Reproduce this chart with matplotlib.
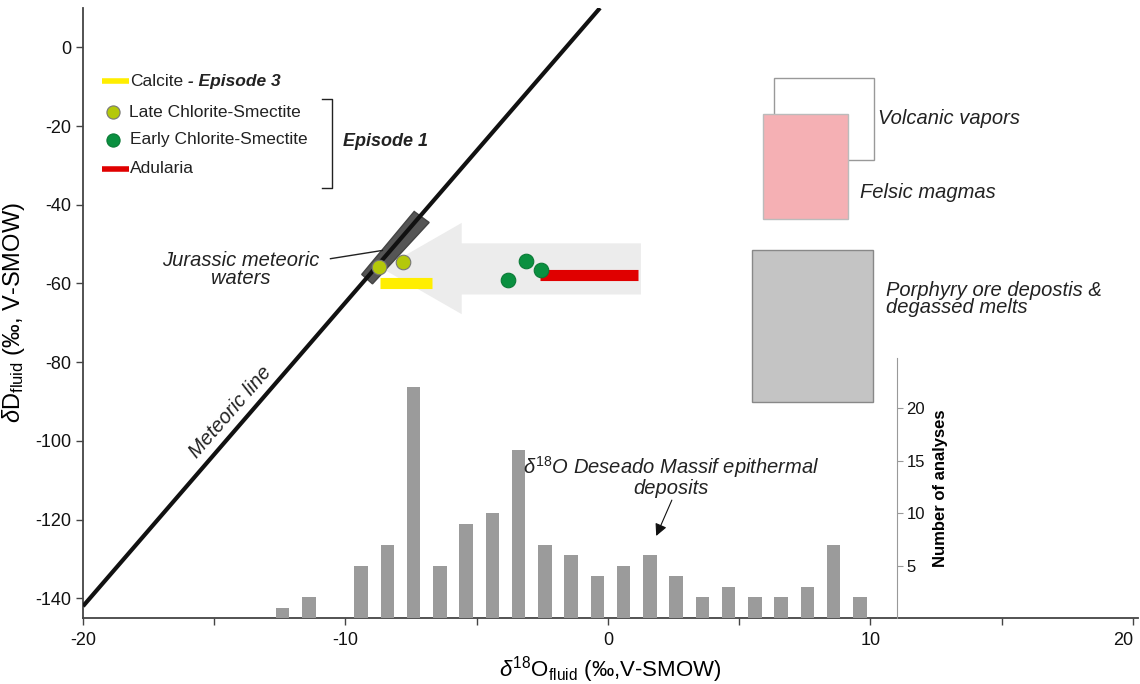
import matplotlib.pyplot as plt
from matplotlib.patches import Polygon, Rectangle
import numpy as np

plt.rcParams['font.family'] = ['Liberation Sans', 'DejaVu Sans']
plt.rcParams['mathtext.fontset'] = 'custom'
plt.rcParams['mathtext.rm'] = 'Liberation Sans'
plt.rcParams['mathtext.it'] = 'Liberation Sans:italic'
plt.rcParams['axes.unicode_minus'] = False

# meteoric water line (as drawn)
meteoric_x = [-20, -0.3]
meteoric_y = [-142, 10]

# sample data
late_cs_x = [-8.74, -7.82]
late_cs_y = [-55.9, -54.6]
early_cs_x = [-3.12, -2.55, -3.79]
early_cs_y = [-54.4, -56.5, -59.2]
adularia_x = [-2.57, 1.15]
adularia_y = [-57.9, -57.9]
calcite_x = [-8.68, -6.72]
calcite_y = [-59.9, -59.9]

# jurassic meteoric waters field
jurassic_x = [-7.38, -6.81, -8.97, -9.38]
jurassic_y = [-41.7, -44.5, -60.1, -57.7]

# arrow outline (tip, head, body)
arrow_x = [-8.6, -5.57, -5.57, 1.26, 1.26, -5.57, -5.57]
arrow_y = [-56.2, -44.6, -49.8, -49.8, -62.8, -62.8, -67.8]

# reference fields: x0, x1, y0, y1
vapors_box = [6.32, 10.13, -7.8, -28.5]
felsic_box = [5.92, 9.16, -17.0, -43.6]
porphyry_box = [5.5, 10.11, -51.6, -90.2]

# histogram of d18O Deseado Massif epithermal deposits
hist_centers = [-12.4, -11.4, -9.4, -8.4, -7.4, -6.4, -5.4, -4.4, -3.4, -2.4, -1.4,
                -0.4, 0.6, 1.6, 2.6, 3.6, 4.6, 5.6, 6.6, 7.6, 8.6, 9.6]
hist_counts = [1, 2, 5, 7, 22, 5, 9, 10, 16, 7, 6, 4, 5, 6, 4, 2, 3, 2, 2, 3, 7, 2]

fig = plt.figure(figsize=(11.4, 6.84), dpi=100)
ax = fig.add_axes([83/1140, 1-618/684, 1055/1140, 610/684])
ax.set_xlim(-20, 20.2)
ax.set_ylim(-145, 10)

for s in ['top', 'right']:
    ax.spines[s].set_visible(False)
for s in ['left', 'bottom']:
    ax.spines[s].set_color('#444444')
    ax.spines[s].set_linewidth(1.3)

ax.set_xticks([-20, -10, 0, 10, 20])
ax.set_xticks([-15, -5, 5, 15], minor=True)
ax.set_yticks(np.arange(-140, 1, 20))
ax.tick_params(axis='both', labelsize=13, labelcolor='#111111', color='#444444', length=5, width=1)
ax.tick_params(axis='x', which='minor', length=5, width=1, colors='#444444')
ax.tick_params(axis='x', pad=5)

ax.set_xlabel(r'$\delta^{18}$O$_{\rm fluid}$ (‰,V-SMOW)', fontsize=16, labelpad=4)
ax.set_ylabel(r'$\delta$D$_{\rm fluid}$ (‰, V-SMOW)', fontsize=17, labelpad=6)

# histogram inset sharing the x scale
hx = ax.inset_axes([-20, -145, 31, 66.1], transform=ax.transData)
hx.bar(hist_centers, hist_counts, width=0.52, color='#9b9b9b')
hx.set_xlim(-20, 11)
hx.set_ylim(0, 24.8)
hx.patch.set_alpha(0)
for s in ['top', 'left', 'bottom']:
    hx.spines[s].set_visible(False)
hx.spines['right'].set_color('#999999')
hx.set_xticks([])
hx.yaxis.tick_right()
hx.set_yticks([5, 10, 15, 20])
hx.tick_params(axis='y', labelsize=12, length=4, color='#999999', labelcolor='#111111', pad=3)
hx.yaxis.set_label_position('right')
hx.set_ylabel('Number of analyses', fontsize=12, fontweight='bold', labelpad=6)

# arrow and jurassic field
ax.add_patch(Polygon(list(zip(arrow_x, arrow_y)), closed=True, facecolor='#ececec',
                     edgecolor='none', zorder=1))
ax.add_patch(Polygon(list(zip(jurassic_x, jurassic_y)), closed=True, facecolor='#555555',
                     edgecolor='#444444', zorder=2))
ax.plot(meteoric_x, meteoric_y, color='#111111', lw=3, zorder=3, solid_capstyle='butt')

ax.plot(calcite_x, calcite_y, color='#ffee00', lw=8, solid_capstyle='butt', zorder=4)
ax.plot(adularia_x, adularia_y, color='#e00000', lw=8, solid_capstyle='butt', zorder=4)
ax.scatter(late_cs_x, late_cs_y, s=110, color='#b4c80a', edgecolors='#777777', lw=0.8, zorder=5)
ax.scatter(early_cs_x, early_cs_y, s=110, color='#0a9040', edgecolors='#0a7a36', lw=0.8, zorder=5)

# reference fields
for box, fc, ec in [(vapors_box, 'white', '#999999'), (felsic_box, '#f5b0b4', '#bbbbbb'),
                    (porphyry_box, '#c4c4c4', '#888888')]:
    ax.add_patch(Rectangle((box[0], box[3]), box[1]-box[0], box[2]-box[3],
                           facecolor=fc, edgecolor=ec, lw=1, zorder=2))

it = dict(fontsize=14.5, style='italic', color='#222222')
ax.text(10.3, -18, 'Volcanic vapors', va='center', **it)
ax.text(9.6, -37, 'Felsic magmas', va='center', **it)
ax.text(10.6, -64, 'Porphyry ore depostis &\ndegassed melts', va='center', linespacing=0.85, **it)
ax.text(-14.0, -56.5, 'Jurassic meteoric\nwaters', ha='center', va='center', linespacing=0.9, **it)
ax.plot([-10.57, -8.59], [-53.7, -51.6], color='#222222', lw=1, zorder=4)
ax.text(-14.4, -92.7, 'Meteoric line', rotation=49, ha='center', va='center', **it)
ax.text(2.4, -108.9, r'$\delta^{18}$O Deseado Massif epithermal' + '\ndeposits',
        ha='center', va='center', linespacing=0.9, zorder=6, **it)
ax.annotate('', xy=(1.8, -124.8), xytext=(2.48, -114.4),
            arrowprops=dict(arrowstyle='-|>', color='#111111', lw=0.8, mutation_scale=18))

# legend drawn by hand
ax.plot([-19.27, -18.24], [-8.6, -8.6], color='#ffee00', lw=4, solid_capstyle='butt')
ax.plot([-19.27, -18.24], [-30.9, -30.9], color='#e00000', lw=4, solid_capstyle='butt')
ax.scatter([-18.85], [-16.5], s=90, color='#b4c80a', edgecolors='#777777', lw=0.8)
ax.scatter([-18.85], [-23.5], s=90, color='#0a9040', edgecolors='#0a7a36', lw=0.8)
lg = dict(fontsize=12.5, color='#222222', va='center')
t = ax.text(-18.2, -8.6, 'Calcite', **lg)
ax.annotate(' - Episode 3', xy=(1, 0.5), xycoords=t, va='center', fontsize=12.5,
            fontweight='bold', style='italic', color='#222222')
ax.text(-18.25, -16.5, 'Late Chlorite-Smectite', **lg)
ax.text(-18.2, -23.5, 'Early Chlorite-Smectite', **lg)
ax.text(-18.2, -30.9, 'Adularia', **lg)
ax.plot([-10.88, -10.5, -10.5, -10.88], [-13.2, -13.2, -35.7, -35.7], color='#222222', lw=1)
ax.text(-10.1, -24, 'Episode 1', fontsize=13, fontweight='bold', style='italic',
        color='#222222', va='center')

# keep the last x tick label inside the figure, as in the original
ax.get_xticklabels()[-1].set_horizontalalignment('right')
ax.get_xticklabels()[-1].set_x(20.2)

fig.savefig('out.png', dpi=100)
